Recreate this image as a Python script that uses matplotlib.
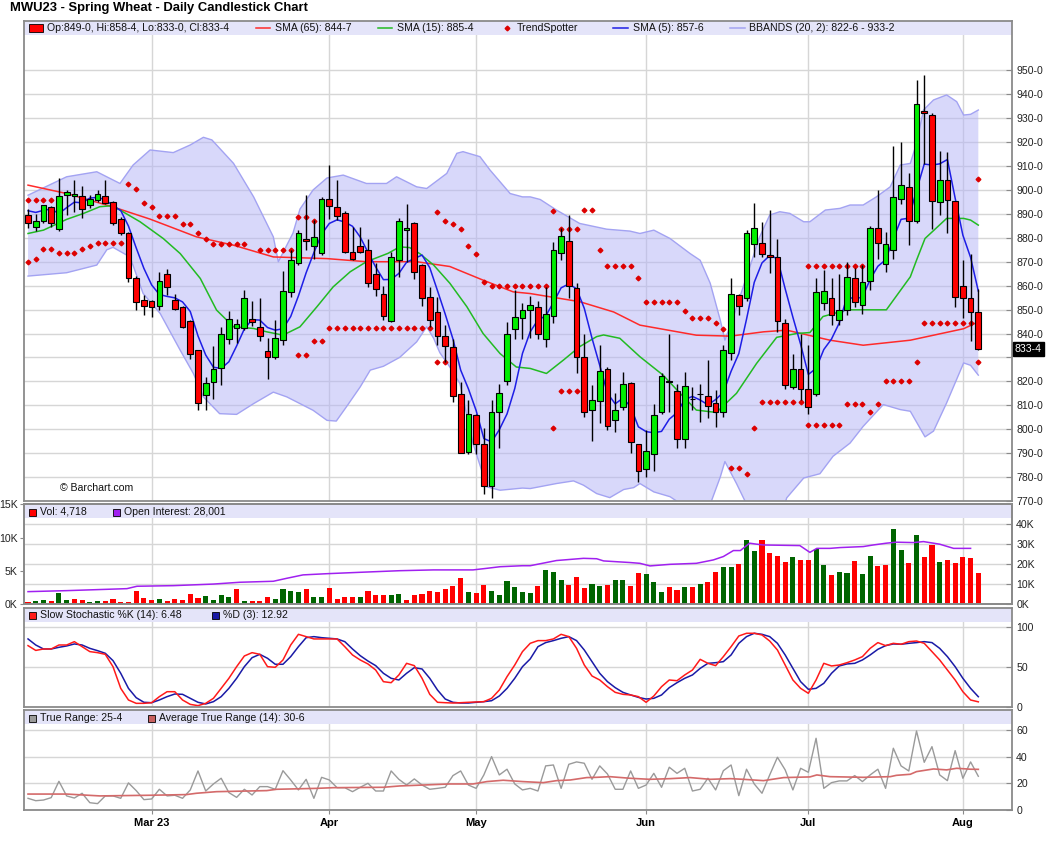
import matplotlib
matplotlib.use("Agg")
import matplotlib.pyplot as plt
from matplotlib.lines import Line2D
from matplotlib.patches import Rectangle
import numpy as np

plt.rcParams['font.family'] = ['Liberation Sans', 'DejaVu Sans']

W, H = 1060, 851

title = "MWU23 - Spring Wheat - Daily Candlestick Chart"

# first session of each month (bar index) and the axis labels
month_bars = [16, 39, 58, 80, 101, 121]
month_labels = ["Mar 23", "Apr", "May", "Jun", "Jul", "Aug"]

# daily OHLC, cents per bushel
opens = [889.5, 884.7, 887.0, 892.7, 883.5, 897.7, 897.3, 897.6, 893.9, 896.0,
         897.6, 894.8, 887.7, 881.8, 863.4, 854.2, 853.7, 851.7, 865.0, 854.2,
         851.2, 845.2, 832.9, 814.1, 819.7, 825.4, 837.5, 842.4, 842.5, 846.0,
         842.8, 832.6, 830.0, 837.2, 857.4, 869.3, 879.7, 876.5, 873.8, 896.3,
         893.0, 890.2, 874.1, 876.6, 875.0, 864.7, 856.3, 845.2, 870.7, 883.2,
         886.0, 868.6, 855.4, 848.8, 839.0, 834.2, 814.9, 790.6, 805.8, 794.0,
         776.3, 807.0, 820.0, 841.7, 846.6, 850.0, 851.2, 837.5, 847.4, 873.8,
         878.7, 858.9, 830.0, 808.0, 812.0, 825.1, 803.8, 809.4, 819.5, 793.8,
         783.2, 789.8, 807.0, 819.8, 815.9, 796.1, 812.5, 814.6, 813.8, 811.1,
         807.0, 832.0, 856.0, 855.0, 877.6, 877.9, 872.7, 871.8, 844.2, 817.7,
         825.2, 816.6, 814.6, 852.8, 855.0, 845.6, 850.0, 863.0, 852.1, 861.9,
         883.9, 869.0, 874.8, 896.4, 901.3, 887.0, 933.0, 931.3, 894.9, 904.0,
         895.2, 859.8, 854.7, 849.0]
highs = [892.0, 890.0, 893.9, 893.2, 904.8, 900.0, 904.0, 901.7, 897.8, 899.8,
         904.0, 895.5, 888.8, 882.5, 864.0, 856.0, 854.0, 865.8, 866.8, 856.3,
         851.5, 845.5, 833.2, 822.0, 834.8, 842.7, 849.4, 846.0, 858.0, 853.5,
         855.0, 838.0, 845.6, 866.0, 874.8, 883.2, 897.8, 887.4, 897.1, 910.4,
         904.1, 891.0, 884.6, 884.6, 879.7, 869.3, 859.8, 874.1, 888.1, 894.1,
         886.5, 869.0, 859.3, 855.4, 843.5, 837.9, 819.8, 812.1, 806.5, 800.3,
         812.1, 818.8, 844.9, 858.1, 852.8, 855.6, 853.4, 859.5, 878.3, 883.9,
         889.5, 861.0, 840.0, 818.4, 835.0, 826.0, 815.0, 824.0, 819.8, 793.8,
         799.6, 810.7, 823.3, 840.0, 819.1, 824.0, 817.7, 819.0, 828.9, 816.3,
         835.0, 863.0, 856.5, 883.2, 894.4, 886.7, 891.8, 879.3, 845.9, 831.6,
         840.0, 835.0, 863.0, 866.5, 863.2, 865.0, 870.0, 867.2, 868.6, 884.9,
         899.9, 882.5, 918.3, 920.2, 907.2, 946.0, 948.0, 932.0, 916.2, 916.0,
         895.5, 870.7, 873.4, 858.5]
lows = [884.0, 883.0, 886.0, 884.6, 882.9, 889.5, 890.9, 888.4, 892.5, 895.0,
        894.0, 885.3, 881.0, 861.6, 849.8, 847.7, 847.0, 849.8, 856.0, 850.0,
        842.5, 829.5, 808.0, 808.0, 812.8, 818.6, 835.7, 836.0, 841.4, 843.0,
        837.0, 821.0, 829.5, 835.0, 855.4, 868.6, 874.8, 871.3, 872.8, 888.0,
        887.4, 873.5, 870.7, 873.5, 859.5, 855.6, 845.6, 845.0, 863.7, 870.0,
        862.6, 851.4, 842.8, 835.1, 828.2, 811.4, 790.0, 789.5, 789.8, 773.0,
        771.4, 792.2, 818.4, 837.5, 837.5, 838.0, 837.5, 834.2, 844.2, 870.7,
        854.7, 823.3, 805.1, 795.0, 802.7, 799.6, 798.9, 808.0, 789.9, 778.0,
        780.1, 782.5, 806.5, 807.4, 792.3, 792.3, 808.0, 803.0, 804.7, 801.0,
        805.0, 829.1, 847.6, 853.5, 872.0, 872.0, 865.1, 840.7, 816.6, 817.0,
        812.1, 806.5, 814.0, 849.8, 843.5, 843.5, 847.6, 851.2, 848.1, 858.1,
        871.0, 865.8, 871.3, 894.3, 876.9, 886.3, 911.0, 883.5, 889.5, 881.8,
        850.9, 846.3, 837.0, 833.0]
closes = [886.3, 887.0, 893.5, 886.3, 897.3, 899.0, 898.5, 892.0, 896.3, 898.5,
          894.4, 886.0, 882.0, 863.4, 853.0, 851.7, 851.2, 862.0, 859.5, 850.3,
          842.8, 831.6, 810.8, 819.4, 825.0, 840.0, 845.9, 843.8, 854.7, 844.8,
          839.0, 830.0, 838.3, 857.7, 870.7, 881.8, 878.5, 880.4, 896.3, 893.2,
          889.0, 874.0, 871.3, 874.1, 861.0, 858.4, 847.5, 871.8, 887.0, 884.3,
          865.8, 855.0, 845.6, 839.0, 834.9, 813.9, 790.0, 806.5, 793.7, 776.3,
          807.0, 815.3, 839.6, 846.8, 850.0, 851.9, 840.0, 848.0, 874.8, 880.7,
          859.8, 830.3, 807.0, 812.4, 824.2, 801.2, 808.0, 819.1, 794.5, 782.4,
          790.9, 805.8, 822.1, 819.8, 796.1, 818.0, 812.5, 814.6, 809.6, 807.2,
          833.3, 856.3, 851.5, 881.8, 884.3, 873.4, 872.0, 845.2, 818.4, 825.2,
          816.8, 809.1, 857.4, 857.8, 847.6, 850.0, 863.7, 853.2, 861.6, 884.3,
          877.9, 877.2, 897.1, 901.9, 887.0, 935.8, 932.0, 895.5, 904.0, 896.0,
          855.4, 854.7, 848.8, 833.5]

# SMA (5), one value per bar
sma5 = [891.3, 890.6, 891.5, 892.0, 890.1, 892.6, 894.9, 894.6, 896.6, 896.9,
        895.9, 893.4, 891.4, 884.9, 875.8, 867.2, 860.3, 856.3, 855.5, 854.9,
        853.2, 849.2, 839.0, 831.0, 825.9, 825.4, 828.2, 834.8, 841.9, 845.8,
        845.6, 842.5, 841.4, 842.0, 847.1, 855.7, 865.4, 873.8, 881.5, 886.0,
        887.5, 886.6, 884.8, 880.3, 873.9, 867.8, 862.5, 862.6, 865.1, 869.8,
        871.3, 872.8, 867.5, 857.9, 848.1, 837.7, 824.7, 816.9, 807.8, 796.1,
        794.7, 799.8, 806.4, 817.0, 831.7, 840.7, 845.7, 847.3, 852.9, 859.1,
        860.7, 858.7, 850.5, 838.0, 826.7, 815.0, 810.6, 813.0, 809.4, 801.0,
        799.0, 798.5, 799.1, 804.2, 806.9, 812.4, 813.7, 812.2, 810.2, 812.4,
        815.4, 824.2, 831.6, 846.0, 861.4, 869.5, 872.6, 871.3, 858.7, 846.8,
        835.5, 822.9, 825.4, 833.3, 837.7, 844.4, 855.3, 854.5, 855.2, 862.6,
        868.1, 870.8, 879.6, 887.7, 888.2, 899.8, 910.8, 910.4, 910.9, 912.7,
        896.6, 881.1, 871.8, 857.7]

# SMA (15), read at the bar positions given
sma15_bar = [0, 2, 5, 7.2, 9.3, 10.9, 11.9, 14.5, 17.5, 19.7,
             22.3, 24.4, 26.6, 29.2, 30.9, 33, 35.2, 37.4, 39.5, 41.7,
             43.8, 46.6, 48.1, 49.4, 50.7, 52.5, 54.6, 56.8, 58.9, 61.1,
             63.2, 65, 67.1, 69.3, 71.4, 73.6, 74.5, 76.6, 79.2, 82.2,
             84.4, 86.5, 89.1, 91.7, 94.3, 96.9, 99.5, 101.2, 102.9, 106,
             111.1, 114.2, 115, 116.1, 118.9, 121.1, 122, 123]
sma15_val = [881.8, 883.2, 887.7, 890.2, 893.0, 893.4, 891.6, 886.7, 879.7, 873.4,
             863.0, 849.8, 842.8, 842.1, 840.7, 839.3, 842.8, 851.2, 859.5, 865.8,
             870.0, 873.5, 876.2, 875.9, 873.4, 868.6, 861.0, 851.2, 840.0, 831.6,
             826.0, 825.4, 823.3, 828.9, 834.5, 838.7, 839.4, 838.0, 830.3, 822.6,
             815.0, 808.0, 807.0, 815.0, 827.5, 838.4, 840.0, 840.4, 847.1, 849.9,
             849.9, 863.7, 870.6, 879.7, 888.1, 888.1, 887.4, 885.3]

# SMA (65)
sma65_bar = [0, 5, 10.9, 15.8, 21.8, 26.6, 31.75, 38.7, 43.8, 50.3, 54.6, 58.9, 62.8,
             65, 71.4, 75.8, 79.2, 86.5, 90.9, 95.2, 98.2, 103.8, 108.1, 114.2, 121.1, 123]
sma65_val = [902.0, 898.5, 893.0, 887.8, 880.4, 876.9, 872.0, 871.3, 870.0, 870.0, 868.0, 862.3, 857.4,
             856.7, 853.3, 849.0, 843.5, 839.3, 838.9, 840.7, 841.4, 837.2, 835.1, 837.2, 842.0, 844.9]

# Bollinger bands (20, 2)
bb_up_bar = [0, 5.0, 8.9, 11.9, 13.6, 15.8, 18.8, 21, 22.7, 23.8,
             26.6, 29.2, 31.75, 32.4, 34.3, 35.2, 36.9, 38.7, 40.8, 43.8,
             46.4, 47.7, 50.3, 51.6, 54.2, 55.5, 56.3, 58.5, 59.8, 62.4,
             64, 65, 66.3, 68.4, 71.4, 74.9, 77.9, 79.2, 81, 83.1,
             85.7, 87, 88.3, 89.6, 90.2, 91.3, 93, 94.7, 96, 97.3,
             98.6, 100.4, 101.2, 103.2, 105.1, 106.4, 108.1, 109.8, 111.6, 112.9,
             114.2, 115, 115.9, 117.2, 118.9, 120.2, 121.1, 122, 123]
bb_up_val = [897.8, 905.5, 907.6, 902.7, 910.4, 916.7, 915.6, 918.8, 922.0, 920.9,
             911.1, 897.1, 880.4, 870.0, 882.0, 892.0, 900.0, 905.0, 906.2, 902.7,
             902.7, 905.5, 901.3, 900.6, 906.9, 915.3, 916.0, 913.9, 908.3, 898.5,
             897.1, 897.1, 896.0, 891.6, 886.0, 883.6, 882.8, 881.8, 883.2, 879.7,
             873.4, 870.6, 861.0, 845.6, 837.2, 847.0, 863.7, 880.4, 889.5, 890.9,
             890.2, 886.7, 886.7, 891.6, 892.3, 893.7, 893.7, 897.1, 901.3, 910.4,
             911.1, 919.5, 933.4, 937.6, 939.7, 936.9, 931.3, 931.6, 933.4]
bb_lo_bar = [0, 5, 8.9, 10.2, 11, 13.2, 14.9, 17.1, 19.7, 21.4,
             22.7, 24.8, 27, 29.2, 31.75, 33.5, 35.2, 36.9, 38.7, 39.9,
             41.2, 43, 44.3, 46, 48.1, 50.3, 51.6, 52.5, 53.3, 54.6,
             55.9, 57.6, 59.4, 61.1, 64, 65, 68.4, 70.6, 71.9, 73.6,
             75.3, 77.1, 78.4, 79.2, 81, 83.1, 84.4, 86.5, 88, 89.6,
             90.2, 91.7, 93.4, 95.5, 97.5, 98.2, 100.4, 102.5, 104.2, 106.4,
             108.1, 110.7, 112.9, 114.2, 116.1, 117.2, 118.9, 121.1, 122, 123]
bb_lo_val = [864.0, 865.4, 868.6, 875.0, 876.0, 872.0, 856.7, 848.4, 833.0, 823.3,
             813.5, 806.5, 806.2, 810.7, 815.5, 813.5, 810.7, 807.9, 803.7, 803.4,
             809.3, 817.7, 824.7, 826.3, 830.0, 836.5, 842.8, 838.0, 832.0, 826.0,
             819.1, 794.0, 775.9, 774.5, 775.4, 775.2, 777.3, 778.4, 776.6, 773.1,
             771.4, 774.8, 775.6, 777.3, 773.8, 771.8, 769.0, 762.0, 766.0, 780.0,
             786.5, 777.3, 766.0, 760.0, 764.0, 771.3, 779.6, 781.4, 788.7, 794.2,
             801.2, 810.3, 808.2, 807.5, 796.8, 799.2, 811.0, 827.7, 826.7, 822.6]

# TrendSpotter dots: (first bar, last bar, level)
trendspotter = [
    (0, 3, 896.0), (0, 0, 870.0), (1, 1, 871.0), (2, 3, 875.5), (4, 6, 873.8),
    (7, 7, 875.2), (8, 8, 876.6), (9, 12, 878.0),
    (13, 13, 902.3), (14, 14, 900.2), (15, 15, 894.4), (16, 16, 892.7), (17, 19, 889.0),
    (20, 21, 885.6), (22, 22, 882.1), (23, 23, 879.7), (24, 28, 877.6), (30, 34, 874.8),
    (35, 36, 888.5), (37, 37, 887.0),
    (35, 36, 831.2), (37, 38, 836.8), (39, 52, 842.5), (53, 54, 827.9),
    (53, 53, 890.6), (54, 54, 887.2), (55, 55, 885.7), (56, 56, 883.8), (57, 57, 876.6),
    (58, 58, 873.4), (59, 59, 861.4), (60, 67, 859.8),
    (68, 68, 800.3), (69, 71, 815.9),
    (68, 68, 891.4), (69, 71, 883.5), (72, 73, 891.6), (74, 74, 874.8), (75, 78, 868.2),
    (79, 79, 863.4), (80, 84, 853.3), (85, 85, 849.4), (86, 88, 846.3), (89, 89, 844.2),
    (90, 90, 841.7),
    (91, 92, 784.0), (93, 93, 781.4), (94, 94, 800.3), (95, 100, 811.5), (101, 105, 801.9),
    (106, 108, 810.5), (109, 109, 807.4), (110, 110, 810.5), (111, 114, 820.1),
    (115, 115, 827.9), (116, 122, 844.2), (123, 123, 828.2),
    (101, 108, 868.2), (123, 123, 904.4),
]

# volume, thousands of contracts
volume = [0.3, 0.45, 0.6, 0.45, 1.65, 0.6, 0.75, 0.6, 0.3, 0.45,
          0.45, 0.75, 0.3, 0.3, 1.95, 0.9, 0.6, 0.75, 0.45, 0.75,
          0.6, 1.5, 0.9, 1.2, 0.6, 1.35, 1.05, 2.25, 0.45, 0.45,
          0.45, 1.05, 0.75, 2.25, 1.95, 1.8, 2.25, 1.05, 1.05, 2.4,
          0.75, 1.05, 1.05, 1.05, 1.95, 1.35, 1.35, 1.35, 1.5, 0.6,
          1.35, 1.5, 1.95, 1.8, 2.25, 2.7, 3.9, 1.8, 1.65, 2.85,
          1.95, 1.35, 3.45, 2.55, 1.8, 1.65, 2.76, 5.12, 4.82, 3.6,
          2.9, 4.07, 2.4, 3.0, 2.76, 2.9, 3.6, 3.6, 2.76, 4.67,
          4.52, 3.3, 1.8, 2.56, 2.1, 2.56, 2.56, 3.0, 3.3, 4.82,
          5.57, 5.57, 6.02, 9.64, 7.98, 9.64, 7.68, 7.23, 6.33, 7.08,
          6.63, 6.63, 8.29, 5.87, 4.37, 4.82, 4.67, 6.48, 4.52, 7.23,
          5.72, 5.87, 11.3, 8.13, 6.17, 10.4, 7.08, 8.89, 6.33, 6.63,
          6.17, 7.08, 6.93, 4.718]

# open interest, thousands
oi_bar = [0, 5, 12.8, 14.1, 18.8, 24, 27.4, 31.75, 33.5, 35.6, 38.7, 43, 48.1, 52.5,
          57.6, 59.4, 61.1, 64, 65, 68.4, 71.9, 73.6, 74.5, 77.9, 79.2, 80.5, 83.1,
          86.5, 88.7, 90, 91.3, 92.2, 93.4, 94.3, 95.2, 99.9, 101.2, 102.1, 103.8,
          105.1, 108.1, 109.4, 111.1, 112.4, 114.6, 115.9, 118, 119.8, 122]
oi_val = [6.2, 6.7, 7.7, 8.9, 9.2, 10.0, 10.9, 11.4, 12.9, 14.6, 15.2, 15.9, 16.7, 17.1,
          17.1, 17.9, 18.7, 19.2, 19.2, 21.8, 22.9, 22.7, 21.6, 20.8, 20.4, 19.1, 19.9,
          20.4, 22.1, 23.8, 26.8, 26.8, 30.5, 30.0, 29.6, 29.3, 25.9, 27.9, 27.9,
          28.3, 28.8, 29.6, 30.5, 31.0, 30.8, 31.3, 30.0, 27.9, 27.9]

# slow stochastic
stoch_k = [77, 71, 72.8, 72.8, 77.8, 77.8, 82, 75.7, 69.5, 68.2,
           66.1, 50.6, 23.4, 8.8, 4.6, 4.6, 5.4, 13, 19.2, 19.2,
           8.8, 3.3, 1.7, 4.6, 10.9, 23.4, 36, 50.6, 64, 68.2,
           66.1, 50.6, 49.8, 59, 77.8, 91.2, 88.3, 85.4, 85.4, 85.4,
           85.4, 75.7, 65.3, 59, 54, 46.4, 31.8, 30.5, 40.2, 54.8,
           51.9, 36, 15.9, 5.9, 5.4, 5.0, 5.4, 5.9, 6.3, 6.7,
           10.9, 21.3, 38.1, 52.7, 69.5, 79.9, 83.3, 83.3, 85.4, 91.2,
           88.3, 73.6, 52.7, 38.9, 33.9, 25.5, 18.4, 15.9, 15.1, 13,
           5.9, 13.8, 25.5, 33.9, 33, 40.2, 46.4, 59.8, 54.8, 51.9,
           63.2, 75.7, 89.1, 92.5, 92.5, 90.4, 82.8, 71.5, 52.7, 33.9,
           23.4, 17.2, 33.9, 54.8, 51.5, 52.7, 55.6, 59, 63.2, 73.6,
           80.8, 77, 79.9, 78.7, 82, 82.8, 79.9, 69.5, 59, 46.4,
           33.9, 19.2, 8.8, 6.48]
stoch_d = [85.4, 77.8, 72.8, 72.8, 74.9, 76.6, 79.1, 77.8, 73.6, 70.7,
           67.4, 58.2, 42.3, 23.4, 11.7, 5.9, 5.4, 8.8, 13, 16.3,
           15.9, 10.9, 5.9, 3.8, 6.7, 13, 23.4, 36, 50.6, 61.9,
           66.1, 61.1, 53.6, 53.6, 63.2, 75.7, 87, 88.3, 87, 86.2,
           85.4, 82, 72.8, 64.4, 57.7, 51.9, 42.3, 36, 33.9, 42.3,
           49.4, 47.7, 36, 21.3, 10, 5.9, 5, 5, 5.9, 6.7,
           7.9, 13.8, 23.4, 36, 50.6, 60.3, 75.7, 80.8, 83.3, 86.2,
           88.3, 83.3, 71.5, 56.9, 42.3, 31.8, 24.3, 18.4, 15.1, 12.1,
           10, 10.9, 15.1, 24.3, 30.5, 36, 40.2, 48.5, 54.8, 55.6,
           56.9, 65.3, 79.9, 88.3, 92.5, 91.2, 88.3, 79.9, 65.3, 48.5,
           31.8, 22.2, 23.4, 29.7, 42.3, 51.5, 54, 54.8, 59, 65.3,
           72.4, 77, 79.1, 78.7, 79.9, 80.8, 82, 80.8, 73.6, 63.2,
           50.6, 36, 23.4, 12.92]

# true range and its 14-day average
true_range = [8.8, 7, 7.5, 9.3, 21.6, 10.6, 9, 12.6, 5.5, 4.8,
              10.6, 10.6, 8.8, 20.4, 14.6, 7.8, 8.3, 15.6, 10.6, 11.1,
              8.8, 15.1, 29.4, 14.3, 19.6, 23.9, 13.1, 9.5, 15.6, 11.3,
              17.6, 17.6, 15.6, 29.6, 22.6, 15.1, 23.1, 8.8, 24.6, 22.6,
              16.8, 16.8, 13.8, 17.1, 20.1, 14.3, 14.3, 29.4, 23.1, 18.8,
              23.4, 18.8, 15.6, 16.3, 17.1, 25.9, 29.4, 18.8, 16.3, 26.4,
              40.2, 26.4, 30.7, 19.6, 15.1, 16.3, 14.3, 33.2, 33.9, 16.3,
              34.4, 36.2, 35.2, 23.1, 33.2, 27.1, 15.6, 15.6, 29.4, 16.3,
              18.8, 27.6, 17.1, 32.2, 27.6, 31.4, 14.3, 15.6, 23.9, 15.1,
              29.6, 33.9, 10.8, 30.7, 19.6, 12.6, 26.4, 39.7, 30.2, 15.1,
              31.4, 28.4, 54, 16.3, 20.6, 21.9, 21.9, 25.9, 21.4, 26.4,
              30.7, 16.3, 46.5, 33.2, 29.4, 59.5, 35.9, 47.7, 26.4, 22.1,
              44.7, 23.9, 36.2, 25.4]
atr_bar = [0, 5, 9.3, 15.8, 20.5, 21.8, 24.4, 30.9, 32.2, 37.4, 39.5, 46, 48.1, 54.6,
           57.6, 59.4, 61.5, 64, 66.7, 68.4, 70.2, 72.3, 73.6, 75.3, 77.9, 80.5, 83.1,
           85.7, 88.3, 90.9, 92.6, 95.2, 97.8, 101.2, 102.1, 103.8, 108.1, 111.6, 112.4,
           114.2, 115, 117.2, 118.9, 120.2, 122, 123]
atr_val = [12, 12, 10.6, 11.1, 11.6, 12.6, 13.8, 14.6, 15.6, 16.3, 16.8, 17.1, 18.1, 19.6,
           19.6, 21.4, 22.4, 21.4, 20.6, 22.1, 22.6, 24.4, 24.6, 25.1, 23.9, 23.1, 23.6,
           24.4, 23.1, 23.6, 23.1, 22.1, 24.4, 24.9, 26.4, 25.1, 24.6, 25.1, 26.1,
           26.9, 28.9, 30.9, 30.2, 31.4, 30.7, 30.6]

UP, DOWN = '#00ee00', '#ff0000'
VOL_UP, VOL_DOWN = '#006400', '#ff0000'
BB_FILL, BB_EDGE = '#b3b3f7', '#a3a3f2'
BAND = '#e4e4f9'
GRID = '#d6d6d6'
FRAME = '#8a8a8a'
TS_RED = '#dd0000'
FS = 7.6

X_LEFT, X_RIGHT = -0.52, 127.36

fig = plt.figure(figsize=(W / 100, H / 100), dpi=100)


def panel(top, bottom):
    ax = fig.add_axes([24 / W, 1 - bottom / H, 988 / W, (bottom - top) / H])
    ax.set_xlim(X_LEFT, X_RIGHT)
    for sp in ax.spines.values():
        sp.set_color(FRAME)
        sp.set_linewidth(1.3)
    ax.tick_params(axis='x', bottom=False, labelbottom=False)
    for m in month_bars:
        ax.axvline(m, color=GRID, lw=1, zorder=0)
    band = 14.0 / (bottom - top)
    ax.add_patch(Rectangle((0, 1 - band), 1, band, transform=ax.transAxes,
                           facecolor=BAND, edgecolor='none', zorder=1.8))
    return ax


def right_ticks(ax, ticks, labels):
    ax.yaxis.tick_right()
    ax.set_yticks(ticks)
    ax.set_yticklabels(labels)
    ax.tick_params(axis='y', direction='in', length=4, color=FRAME,
                   labelsize=FS, pad=3, labelcolor='#222222')


def legend_text(px, py, s):
    fig.text(px / W, 1 - py / H, s, fontsize=FS, ha='left', va='center', color='#111111')


def legend_line(px0, px1, py, color):
    fig.add_artist(Line2D([px0 / W, px1 / W], [1 - py / H] * 2, color=color, lw=1.1,
                          transform=fig.transFigure))


def legend_box(px0, py, color, w=7, h=7):
    fig.add_artist(Rectangle((px0 / W, 1 - (py + h / 2) / H), w / W, h / H,
                             facecolor=color, edgecolor='black', lw=0.6,
                             transform=fig.transFigure))


x = np.arange(len(closes))
o = np.array(opens)
c = np.array(closes)

# ---- price panel
ax_p = panel(21, 501)
ax_p.set_ylim(770, 970.6)
for lvl in range(780, 951, 10):
    ax_p.axhline(lvl, color=GRID, lw=1, zorder=0)

band_x = list(bb_up_bar) + list(bb_lo_bar[::-1])
band_y = list(bb_up_val) + list(bb_lo_val[::-1])
ax_p.fill(band_x, band_y, color=BB_FILL, alpha=0.5, zorder=1, lw=0)
ax_p.plot(bb_up_bar, bb_up_val, color=BB_EDGE, lw=1, zorder=1.5)
ax_p.plot(bb_lo_bar, bb_lo_val, color=BB_EDGE, lw=1, zorder=1.5)

ax_p.plot(sma65_bar, sma65_val, color='#ff2a2a', lw=1.1, zorder=2)
ax_p.plot(sma15_bar, sma15_val, color='#22bb22', lw=1.1, zorder=2)
ax_p.plot(x, sma5, color='#1e1ee6', lw=1.1, zorder=2)

ts_x, ts_y = [], []
for first, last, lvl in trendspotter:
    for b in range(first, last + 1):
        ts_x.append(b)
        ts_y.append(lvl)
ax_p.plot(ts_x, ts_y, ls='none', marker='D', ms=2.4, color=TS_RED, zorder=2.5)

body_col = np.where(c > o, UP, np.where(c < o, DOWN, 'black'))
ax_p.vlines(x, lows, highs, color='black', lw=1, zorder=3)
ax_p.bar(x, np.maximum(np.abs(c - o), 0.3), bottom=np.minimum(o, c), width=0.74,
         color=body_col, edgecolor='black', linewidth=0.8, zorder=4)

price_ticks = list(range(770, 951, 10))
right_ticks(ax_p, price_ticks, ['' if t == 830 else f'{t}-0' for t in price_ticks])
ax_p.text(1.003, closes[-1], '833-4', transform=ax_p.get_yaxis_transform(),
          color='white', fontsize=FS, ha='left', va='center', clip_on=False,
          bbox=dict(facecolor='black', edgecolor='black', pad=1.2))
ax_p.text(36 / 988, (501 - 488) / 480, '\u00a9 Barchart.com', transform=ax_p.transAxes,
          fontsize=FS, ha='left', va='center', color='#111111')

# ---- volume / open interest
ax_v = panel(504.3, 604)
ax_v.set_ylim(0, 15)
oi_top = 50
for g in [10, 20, 30, 40]:
    ax_v.axhline(g * 15 / oi_top, color=GRID, lw=1, zorder=0)
vol_col = [VOL_UP if i > 0 and closes[i] > closes[i - 1] else VOL_DOWN for i in range(len(volume))]
ax_v.bar(x, volume, width=0.66, color=vol_col, zorder=2)
ax_v.set_yticks([0, 5, 10, 15])
ax_v.set_yticklabels(['0K', '5K', '10K', '15K'])
ax_v.tick_params(axis='y', direction='out', length=3, color=FRAME, labelsize=FS,
                 pad=1.5, labelcolor='#222222')
ax_oi = ax_v.twinx()
ax_oi.set_xlim(X_LEFT, X_RIGHT)
ax_oi.set_ylim(0, oi_top)
for sp in ax_oi.spines.values():
    sp.set_color(FRAME)
    sp.set_linewidth(1.3)
ax_oi.plot(oi_bar, oi_val, color='#a020f0', lw=1.1, zorder=3)
right_ticks(ax_oi, [0, 10, 20, 30, 40], ['0K', '10K', '20K', '30K', '40K'])

# ---- slow stochastic
ax_s = panel(607.7, 707)
ax_s.set_ylim(0, 124.6)
for g in [50, 100]:
    ax_s.axhline(g, color=GRID, lw=1, zorder=0)
ax_s.plot(x, stoch_d, color='#1a1aa6', lw=1.1, zorder=2)
ax_s.plot(x, stoch_k, color='#ff1a1a', lw=1.1, zorder=2)
right_ticks(ax_s, [0, 50, 100], ['0', '50', '100'])

# ---- true range
ax_t = panel(710.3, 810)
ax_t.set_ylim(0, 75.06)
for g in [20, 40, 60]:
    ax_t.axhline(g, color=GRID, lw=1, zorder=0)
ax_t.plot(x, true_range, color='#9a9a9a', lw=1, zorder=2)
ax_t.plot(atr_bar, atr_val, color='#d46a6a', lw=1.2, zorder=2.5)
right_ticks(ax_t, [0, 20, 40, 60], ['0', '20', '40', '60'])
ax_t.set_xticks(month_bars)
ax_t.set_xticklabels(month_labels, fontweight='bold')
ax_t.tick_params(axis='x', bottom=True, labelbottom=True, direction='out', length=3,
                 color=FRAME, labelsize=8, pad=3)

# ---- titles and legends
fig.text(10 / W, 1 - 8.3 / H, title, fontsize=9.4, fontweight='bold', ha='left', va='center')

legend_box(29, 28, DOWN, w=14, h=7.4)
legend_text(47, 28, 'Op:849-0, Hi:858-4, Lo:833-0, Cl:833-4')
legend_line(256, 270, 28, '#ff2a2a')
legend_text(275, 28, 'SMA (65): 844-7')
legend_line(378, 392, 28, '#22bb22')
legend_text(397, 28, 'SMA (15): 885-4')
fig.add_artist(Line2D([507 / W], [1 - 28 / H], marker='D', ms=2.4, color=TS_RED, lw=0,
                      transform=fig.transFigure))
legend_text(517, 28, 'TrendSpotter')
legend_line(613, 628, 28, '#1e1ee6')
legend_text(633, 28, 'SMA (5): 857-6')
legend_line(730, 745, 28, BB_EDGE)
legend_text(749, 28, 'BBANDS (20, 2): 822-6 - 933-2')

legend_box(29, 512, VOL_DOWN)
legend_text(40.5, 512, 'Vol: 4,718')
legend_box(113, 512, '#a020f0')
legend_text(124.3, 512, 'Open Interest: 28,001')

legend_box(29, 615, '#ff1a1a')
legend_text(40.5, 615, 'Slow Stochastic %K (14): 6.48')
legend_box(212, 615, '#1a1aa6')
legend_text(223.3, 615, '%D (3): 12.92')

legend_box(29, 718, '#9a9a9a')
legend_text(40.5, 718, 'True Range: 25-4')
legend_box(148, 718, '#c86060')
legend_text(159, 718, 'Average True Range (14): 30-6')

fig.savefig('out.png', dpi=100)
